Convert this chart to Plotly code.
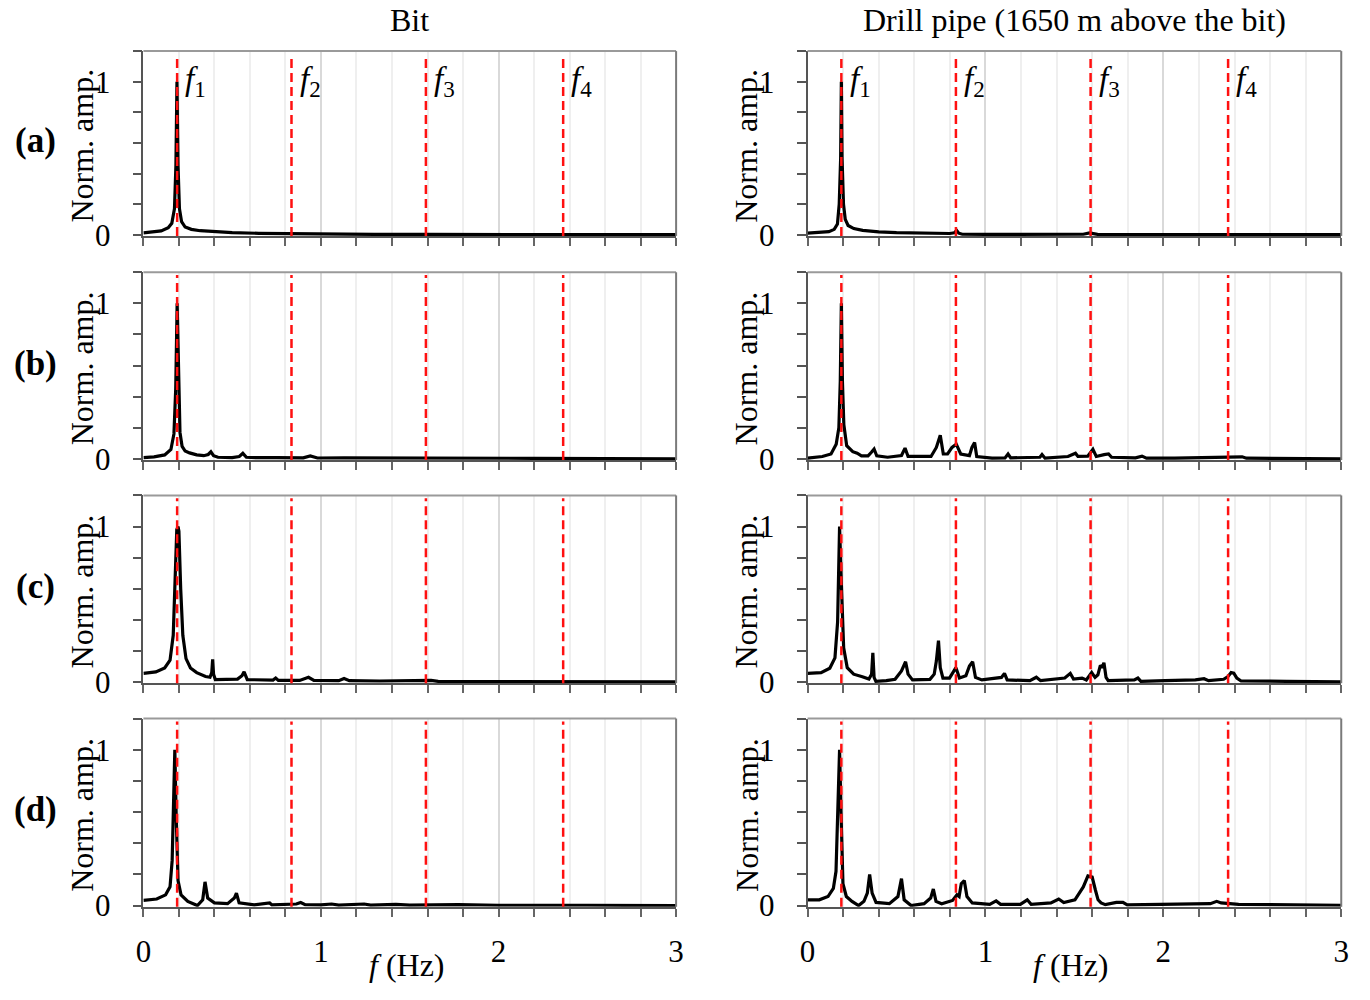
import plotly.graph_objects as go
from plotly.subplots import make_subplots

# ---------------- data ----------------
COL_TITLES = ["Bit", "Drill pipe (1650 m above the bit)"]
ROW_LABELS = ["(a)", "(b)", "(c)", "(d)"]
F_LINES = [0.19, 0.834, 1.591, 2.364]
F_LABELS = ["<i>f</i><sub>1</sub>", "<i>f</i><sub>2</sub>", "<i>f</i><sub>3</sub>", "<i>f</i><sub>4</sub>"]
X_TICKS = [0, 1, 2, 3]
Y_TICKS = [0, 1]

A_BIT_F = [0, 0.05, 0.10, 0.14, 0.16, 0.175, 0.183, 0.189, 0.195, 0.203, 0.215, 0.235, 0.27, 0.32,
           0.40, 0.50, 0.65, 0.85, 1.1, 1.3, 1.6, 2.0, 2.5, 3.0]
A_BIT_AMP = [0.012, 0.016, 0.025, 0.045, 0.075, 0.17, 0.45, 1.0, 0.45, 0.17, 0.085, 0.05, 0.035, 0.026,
             0.018, 0.013, 0.009, 0.006, 0.004, 0.002, 0.002, 0.001, 0.001, 0.0]

A_PIPE_F = [0, 0.06, 0.12, 0.15, 0.168, 0.178, 0.186, 0.19, 0.194, 0.202, 0.212, 0.228, 0.26, 0.31, 0.4,
            0.5, 0.65, 0.8, 0.825, 0.838, 0.85, 0.87, 1.0, 1.3, 1.55, 1.585, 1.6, 1.63, 2.0, 2.5, 3.0]
A_PIPE_AMP = [0.01, 0.013, 0.02, 0.035, 0.07, 0.2, 0.5, 1.0, 0.5, 0.2, 0.1, 0.06, 0.04, 0.028, 0.018,
              0.013, 0.01, 0.008, 0.012, 0.028, 0.01, 0.003, 0.002, 0.002, 0.003, 0.012, 0.008, 0.002,
              0.001, 0.001, 0.0]

B_BIT_F = [0, 0.06, 0.12, 0.155, 0.172, 0.182, 0.19, 0.198, 0.206, 0.218, 0.235, 0.26, 0.3, 0.34, 0.365,
           0.38, 0.395, 0.42, 0.5, 0.54, 0.56, 0.58, 0.65, 0.75, 0.9, 0.94, 0.98, 1.13, 1.4, 1.8, 2.2,
           2.6, 3.0]
B_BIT_AMP = [0.008, 0.012, 0.025, 0.06, 0.16, 0.45, 1.0, 0.45, 0.17, 0.08, 0.05, 0.038, 0.025, 0.02,
             0.028, 0.045, 0.02, 0.01, 0.008, 0.015, 0.035, 0.01, 0.007, 0.008, 0.006, 0.018, 0.005,
             0.006, 0.004, 0.003, 0.003, 0.002, 0.0]

B_PIPE_F = [0, 0.083, 0.132, 0.161, 0.176, 0.184, 0.19, 0.196, 0.204, 0.212, 0.22, 0.254, 0.279, 0.303,
            0.34, 0.359, 0.374, 0.389, 0.45, 0.528, 0.548, 0.565, 0.694, 0.724, 0.746, 0.763, 0.787,
            0.812, 0.836, 0.861, 0.91, 0.924, 0.939, 0.951, 1.037, 1.11, 1.127, 1.142, 1.306, 1.318,
            1.335, 1.464, 1.489, 1.506, 1.52, 1.575, 1.604, 1.623, 1.667, 1.692, 1.709, 1.843, 1.88,
            1.905, 2.064, 2.259, 2.345, 2.443, 2.467, 2.699, 3.0]
B_PIPE_AMP = [0.004, 0.015, 0.031, 0.094, 0.2, 0.5, 1.0, 0.5, 0.22, 0.13, 0.084, 0.046, 0.036, 0.019,
              0.019, 0.042, 0.063, 0.019, 0.01, 0.021, 0.069, 0.015, 0.015, 0.073, 0.151, 0.031, 0.031,
              0.073, 0.094, 0.031, 0.02, 0.073, 0.105, 0.015, 0.004, 0.006, 0.031, 0.006, 0.01, 0.027,
              0.004, 0.015, 0.031, 0.036, 0.015, 0.017, 0.061, 0.015, 0.027, 0.031, 0.01, 0.006, 0.017,
              0.004, 0.004, 0.008, 0.006, 0.013, 0.004, 0.002, 0.0]

C_BIT_F = [0, 0.07, 0.12, 0.15, 0.168, 0.18, 0.188, 0.195, 0.2, 0.21, 0.222, 0.24, 0.265, 0.3, 0.35,
           0.375, 0.385, 0.39, 0.395, 0.405, 0.46, 0.53, 0.555, 0.567, 0.585, 0.65, 0.73, 0.745, 0.76,
           0.88, 0.93, 0.96, 1.1, 1.13, 1.16, 1.33, 1.62, 1.66, 2.0, 2.6, 3.0]
C_BIT_AMP = [0.055, 0.065, 0.09, 0.14, 0.3, 0.75, 0.98, 1.0, 0.97, 0.6, 0.3, 0.15, 0.09, 0.06, 0.035,
             0.03, 0.06, 0.145, 0.05, 0.015, 0.015, 0.018, 0.04, 0.065, 0.015, 0.012, 0.012, 0.025, 0.01,
             0.01, 0.03, 0.01, 0.008, 0.022, 0.008, 0.006, 0.01, 0.004, 0.004, 0.002, 0.0]

C_PIPE_F = [0, 0.076, 0.125, 0.154, 0.169, 0.18, 0.191, 0.203, 0.223, 0.259, 0.308, 0.345, 0.36, 0.367,
            0.374, 0.384, 0.443, 0.492, 0.528, 0.551, 0.565, 0.59, 0.688, 0.712, 0.724, 0.736, 0.746,
            0.761, 0.798, 0.817, 0.834, 0.854, 0.89, 0.91, 0.928, 0.944, 0.98, 1.09, 1.107, 1.122, 1.25,
            1.286, 1.31, 1.446, 1.477, 1.495, 1.543, 1.567, 1.597, 1.616, 1.632, 1.646, 1.656, 1.666,
            1.678, 1.69, 1.837, 1.857, 1.874, 2.009, 2.18, 2.229, 2.254, 2.339, 2.363, 2.381, 2.396,
            2.413, 2.437, 2.694, 3.0]
C_PIPE_AMP = [0.055, 0.06, 0.088, 0.155, 0.386, 1.0, 0.6, 0.22, 0.092, 0.05, 0.034, 0.019, 0.05, 0.187,
              0.029, 0.004, 0.008, 0.017, 0.071, 0.13, 0.05, 0.013, 0.017, 0.05, 0.134, 0.266, 0.092,
              0.025, 0.025, 0.06, 0.092, 0.025, 0.04, 0.103, 0.13, 0.029, 0.013, 0.029, 0.055, 0.013,
              0.008, 0.03, 0.008, 0.025, 0.055, 0.019, 0.025, 0.013, 0.06, 0.029, 0.046, 0.107, 0.092,
              0.124, 0.029, 0.008, 0.013, 0.025, 0.004, 0.008, 0.013, 0.021, 0.008, 0.017, 0.034, 0.06,
              0.057, 0.025, 0.006, 0.004, 0.0]

D_BIT_F = [0, 0.075, 0.125, 0.15, 0.162, 0.172, 0.177, 0.185, 0.195, 0.212, 0.25, 0.304, 0.334, 0.347,
           0.362, 0.4, 0.474, 0.512, 0.524, 0.539, 0.624, 0.711, 0.724, 0.861, 0.886, 0.911, 1.0, 1.06,
           1.1, 1.243, 1.28, 1.422, 1.5, 1.772, 2.0, 2.5, 3.0]
D_BIT_AMP = [0.033, 0.042, 0.069, 0.12, 0.29, 0.77, 1.0, 0.56, 0.16, 0.069, 0.027, 0.0, 0.037, 0.152,
             0.048, 0.017, 0.012, 0.048, 0.079, 0.017, 0.004, 0.017, 0.004, 0.01, 0.02, 0.006, 0.004,
             0.01, 0.003, 0.01, 0.003, 0.008, 0.003, 0.006, 0.002, 0.002, 0.0]

D_PIPE_F = [0, 0.066, 0.115, 0.145, 0.16, 0.17, 0.18, 0.189, 0.199, 0.218, 0.25, 0.287, 0.317, 0.336,
            0.349, 0.363, 0.385, 0.46, 0.508, 0.528, 0.543, 0.582, 0.655, 0.692, 0.707, 0.722, 0.754,
            0.815, 0.84, 0.852, 0.864, 0.881, 0.896, 0.926, 1.024, 1.06, 1.085, 1.196, 1.235, 1.257,
            1.368, 1.412, 1.44, 1.503, 1.55, 1.576, 1.6, 1.618, 1.633, 1.65, 1.674, 1.736, 1.773, 1.797,
            1.957, 2.104, 2.141, 2.264, 2.3, 2.325, 2.423, 3.0]
D_PIPE_AMP = [0.037, 0.037, 0.058, 0.11, 0.22, 0.56, 1.0, 0.56, 0.14, 0.058, 0.027, 0.0, 0.027, 0.08,
              0.2, 0.08, 0.02, 0.012, 0.058, 0.173, 0.037, 0.0, 0.012, 0.048, 0.106, 0.027, 0.012, 0.033,
              0.069, 0.058, 0.14, 0.16, 0.058, 0.017, 0.008, 0.03, 0.008, 0.008, 0.037, 0.008, 0.017,
              0.042, 0.02, 0.037, 0.12, 0.19, 0.183, 0.1, 0.037, 0.017, 0.006, 0.02, 0.02, 0.004, 0.008,
              0.012, 0.008, 0.012, 0.027, 0.017, 0.008, 0.002]

SERIES = [[(A_BIT_F, A_BIT_AMP), (A_PIPE_F, A_PIPE_AMP)],
          [(B_BIT_F, B_BIT_AMP), (B_PIPE_F, B_PIPE_AMP)],
          [(C_BIT_F, C_BIT_AMP), (C_PIPE_F, C_PIPE_AMP)],
          [(D_BIT_F, D_BIT_AMP), (D_PIPE_F, D_PIPE_AMP)]]

# ---------------- layout geometry (pixels) ----------------
W, H = 1370, 1000
X_DOM = [(137, 676), (809, 1349)]
Y_DOM = [(52, 240), (277, 468), (504, 695), (731, 922.5)]
FONT = "Liberation Serif"
TICK_SIZE = 31
TITLE_SIZE = 32

fig = make_subplots(rows=4, cols=2)

annotations = []
shapes = []
for r in range(4):
    for c in range(2):
        f, a = SERIES[r][c]
        idx = r * 2 + c + 1
        sfx = "" if idx == 1 else str(idx)
        fig.add_trace(go.Scatter(x=f, y=a, mode="lines", line=dict(color="black", width=3.2),
                                 showlegend=False, hoverinfo="skip"), row=r + 1, col=c + 1)
        x0, x1 = X_DOM[c]
        yt, yb = Y_DOM[r]
        fig.layout["xaxis" + sfx].update(
            domain=[x0 / W, x1 / W], range=[0, 3], tickmode="array", tickvals=X_TICKS,
            ticktext=[str(v) for v in X_TICKS], showticklabels=(r == 3),
            ticks="outside", ticklen=8, tickwidth=1.5, tickcolor="#666",
            showline=True, linecolor="#555", linewidth=1.5,
            showgrid=True, gridcolor="#d9d9d9", gridwidth=1.5, zeroline=False,
            minor=dict(dtick=0.2, tick0=0, ticks="outside", ticklen=8, tickwidth=1.5, tickcolor="#666",
                       showgrid=True, gridcolor="#efefef", gridwidth=1.5),
            tickfont=dict(family=FONT, size=TICK_SIZE, color="black"), ticklabelstandoff=8,
            fixedrange=True)
        fig.layout["yaxis" + sfx].update(
            domain=[1 - yb / H, 1 - yt / H], range=[-0.008, 1.2], tickmode="array", tickvals=Y_TICKS,
            ticktext=[str(v) for v in Y_TICKS], ticks="outside", ticklen=9, tickwidth=1.5,
            tickcolor="#555", showline=True, linecolor="#555", linewidth=1.5, showgrid=False,
            zeroline=False,
            minor=dict(dtick=0.2, tick0=0, ticks="outside", ticklen=9, tickwidth=1.5, tickcolor="#555",
                       showgrid=False),
            tickfont=dict(family=FONT, size=TICK_SIZE, color="black"), ticklabelstandoff=16,
            fixedrange=True)
        # top and right frame lines
        shapes.append(dict(type="line", xref=f"x{sfx} domain", yref=f"y{sfx} domain",
                           x0=0, x1=1, y0=1, y1=1, line=dict(color="#9a9a9a", width=2), layer="above"))
        shapes.append(dict(type="line", xref=f"x{sfx} domain", yref=f"y{sfx} domain",
                           x0=1, x1=1, y0=0, y1=1, line=dict(color="#7a7a7a", width=2), layer="above"))
        # red dashed natural-frequency lines
        for k, fl in enumerate(F_LINES):
            shapes.append(dict(type="line", xref=f"x{sfx}", yref=f"y{sfx} domain",
                               x0=fl, x1=fl, y0=0, y1=0.985,
                               line=dict(color="#ff1010", width=2.5, dash="9px,5px"), layer="above"))
            if r == 0:
                annotations.append(dict(text=F_LABELS[k], x=fl + 0.035, y=1.0, xref=f"x{sfx}",
                                        yref=f"y{sfx}", xanchor="left", yanchor="middle",
                                        showarrow=False,
                                        font=dict(family=FONT, size=33, color="black")))
        # y-axis title
        annotations.append(dict(text="Norm. amp.", textangle=-90, x=(x0 - 62) / W,
                                y=1 - ((yt + yb) / 2 + 2) / H, xref="paper", yref="paper",
                                xanchor="center", yanchor="middle", showarrow=False,
                                font=dict(family=FONT, size=TITLE_SIZE, color="black")))
    # row label
    yt, yb = Y_DOM[r]
    annotations.append(dict(text="<b>" + ROW_LABELS[r] + "</b>", x=28 / W, y=1 - ((yt + yb) / 2 - 3) / H,
                            xref="paper", yref="paper", xanchor="center", yanchor="middle",
                            showarrow=False, font=dict(family=FONT, size=35, color="black")))

for c in range(2):
    x0, x1 = X_DOM[c]
    annotations.append(dict(text=COL_TITLES[c], x=(x0 + x1) / 2 / W, y=1 - 20 / H, xref="paper",
                            yref="paper", xanchor="center", yanchor="middle", showarrow=False,
                            font=dict(family=FONT, size=TITLE_SIZE, color="black")))
    annotations.append(dict(text="<i>f</i> (Hz)", x=((x0 + x1) / 2 - 3) / W, y=1 - 982 / H,
                            xref="paper", yref="paper", xanchor="center", yanchor="middle",
                            showarrow=False, font=dict(family=FONT, size=TITLE_SIZE, color="black")))

fig.update_layout(width=W, height=H, margin=dict(l=0, r=0, t=0, b=0), paper_bgcolor="white",
                  plot_bgcolor="white", annotations=annotations, shapes=shapes, showlegend=False)

fig.write_html("out.html")
